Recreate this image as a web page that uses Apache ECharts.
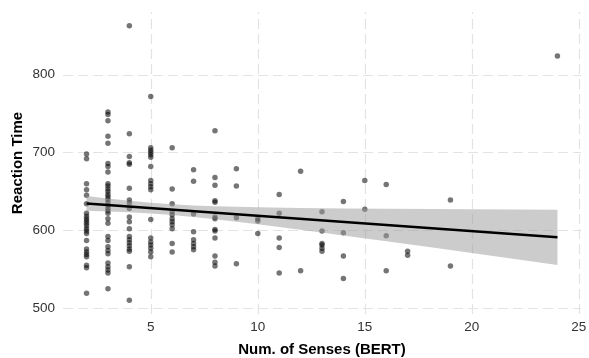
<!DOCTYPE html>
<html>
<head>
<meta charset="utf-8">
<script src="https://cdn.jsdelivr.net/npm/echarts@6/dist/echarts.min.js"></script>
<style>
  html, body { margin: 0; padding: 0; background: #ffffff; }
  #chart { width: 589px; height: 358px; }
</style>
</head>
<body>
<div id="chart"></div>
<script>
// Number of senses (x) levels and the reaction times observed at each level
const senseLevels = [2, 3, 4, 5, 6, 7, 8, 9, 10, 11, 12, 13, 14, 15, 16, 17, 19, 24];
const reactionTimes = [
  [698, 692, 660, 652, 645, 634, 622, 618, 615, 612, 609, 606, 602, 599, 596, 587, 576, 572, 569, 566, 555, 552, 519],
  [752, 749, 741, 721, 712, 686, 682, 675, 660, 657, 653, 650, 646, 643, 640, 636, 632, 628, 625, 622, 615, 609, 592, 587, 579, 574, 570, 558, 553, 549, 545, 525],
  [863, 724, 695, 687, 685, 654, 639, 635, 628, 617, 611, 602, 592, 588, 584, 580, 576, 573, 553, 510],
  [772, 706, 703, 700, 697, 694, 682, 664, 660, 656, 652, 614, 590, 585, 581, 577, 572, 566],
  [706, 653, 634, 624, 620, 615, 611, 607, 602, 583, 572],
  [678, 663, 621, 598, 588, 583, 579, 575],
  [728, 668, 658, 638, 636, 617, 615, 601, 599, 590, 567, 559, 554],
  [679, 657, 616, 557],
  [615, 612, 596],
  [646, 622, 590, 578, 545],
  [676, 548],
  [624, 599, 583, 581, 577, 573],
  [637, 597, 567, 538],
  [664, 627],
  [659, 593, 548],
  [573, 568],
  [639, 554],
  [824]
];

// Fitted regression line (end points) and its confidence band
const fitX = [2, 24];
const fitY = [634.5, 591.0];
const bandX =     [2,     3,     4,     5,     6,     7,     8,     10,    12,    14,    16,    18,    20,    22,    24];
const bandLower = [625.0, 624.2, 623.1, 621.7, 619.7, 617.2, 614.3, 607.8, 600.7, 593.4, 585.9, 578.4, 570.7, 563.1, 555.5];
const bandUpper = [644.0, 640.8, 637.9, 635.5, 633.5, 632.0, 630.9, 629.6, 628.7, 628.2, 627.7, 627.4, 627.1, 626.7, 626.5];

// Tick labels
const xTicks = [5, 10, 15, 20, 25];
const yTicks = [500, 600, 700, 800];

const points = [];
senseLevels.forEach((s, i) => reactionTimes[i].forEach(v => points.push([s, v])));

const gridLineStyle = { color: '#e3e3e3', width: 1.2, type: [10, 5] };
const fontFamily = '"Liberation Sans", Arial, Helvetica, sans-serif';

const chart = echarts.init(document.getElementById('chart'), null, { renderer: 'canvas' });
chart.setOption({
  animation: false,
  backgroundColor: '#ffffff',
  grid: { left: 63, right: 8, top: 12, bottom: 44, containLabel: false, outerBoundsMode: 'none' },
  xAxis: {
    type: 'value',
    min: 0.9,
    max: 25.1,
    name: 'Num. of Senses (BERT)',
    nameLocation: 'middle',
    nameGap: 28,
    nameMoveOverlap: false,
    nameTextStyle: { fontFamily, fontSize: 15, fontWeight: 'bold', color: '#000' },
    axisLine: { show: false },
    axisTick: { show: false, customValues: xTicks },
    splitLine: { show: false },
    axisLabel: { customValues: xTicks, fontFamily, fontSize: 13.5, color: '#333', margin: 6 }
  },
  yAxis: {
    type: 'value',
    min: 492.4,
    max: 880.7,
    name: 'Reaction Time',
    nameLocation: 'middle',
    nameGap: 38,
    nameRotate: 90,
    nameMoveOverlap: false,
    nameTextStyle: { fontFamily, fontSize: 15, fontWeight: 'bold', color: '#000' },
    axisLine: { show: false },
    axisTick: { show: false, customValues: yTicks },
    splitLine: { show: false },
    axisLabel: { customValues: yTicks, fontFamily, fontSize: 13.5, color: '#333', margin: 8 }
  },
  series: [
    {
      name: 'grid',
      type: 'line',
      data: [],
      z: 1,
      silent: true,
      markLine: {
        silent: true,
        z: 0,
        symbol: 'none',
        label: { show: false },
        lineStyle: gridLineStyle,
        emphasis: { disabled: true },
        data: xTicks.map(v => ({ xAxis: v })).concat(yTicks.map(v => ({ yAxis: v })))
      }
    },
    {
      name: 'points',
      type: 'scatter',
      data: points,
      symbol: 'circle',
      symbolSize: 5.5,
      z: 2,
      itemStyle: { color: 'rgba(0,0,0,0.68)', borderWidth: 0 }
    },
    {
      name: 'band',
      type: 'custom',
      z: 3,
      silent: true,
      data: bandX.map((x, i) => [x, bandLower[i], bandUpper[i]]),
      encode: { x: 0, y: [1, 2] },
      renderItem: function (params, api) {
        if (params.dataIndex !== 0) return;
        const pts = [];
        for (let i = 0; i < bandX.length; i++) pts.push(api.coord([bandX[i], bandUpper[i]]));
        for (let i = bandX.length - 1; i >= 0; i--) pts.push(api.coord([bandX[i], bandLower[i]]));
        return { type: 'polygon', shape: { points: pts }, style: { fill: 'rgba(153,153,153,0.5)' } };
      }
    },
    {
      name: 'fit',
      type: 'line',
      data: fitX.map((x, i) => [x, fitY[i]]),
      showSymbol: false,
      symbol: 'none',
      z: 4,
      lineStyle: { color: '#000', width: 2.6 }
    }
  ]
});
</script>
</body>
</html>
